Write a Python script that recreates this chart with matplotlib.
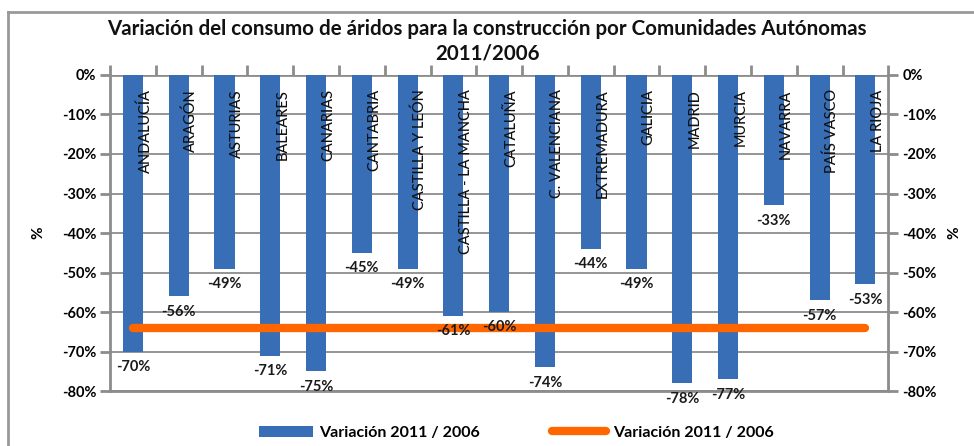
import matplotlib
matplotlib.use('Agg')
import matplotlib.pyplot as plt
from matplotlib.lines import Line2D
from matplotlib.patches import Patch
from matplotlib.ticker import FuncFormatter, MultipleLocator
import numpy as np

regiones = ['ANDALUCÍA', 'ARAGÓN', 'ASTURIAS', 'BALEARES', 'CANARIAS',
            'CANTABRIA', 'CASTILLA Y LEÓN', 'CASTILLA - LA MANCHA',
            'CATALUÑA', 'C. VALENCIANA', 'EXTREMADURA', 'GALICIA',
            'MADRID', 'MURCIA', 'NAVARRA', 'PAÍS VASCO', 'LA RIOJA']
variacion = [-70, -56, -49, -71, -75, -45, -49, -61, -60, -74, -44, -49,
             -78, -77, -33, -57, -53]
media = -64

titulo = 'Variación del consumo de áridos para la construcción por Comunidades Autónomas\n2011/2006'
leyenda = 'Variación 2011 / 2006'

plt.rcParams['font.family'] = ['Lato', 'DejaVu Sans']

fig = plt.figure(figsize=(9.74, 4.46), dpi=100)
ax = fig.add_axes([0.113, 0.123, 0.799, 0.709])

x = np.arange(len(regiones))
barras = ax.bar(x, variacion, width=0.44, color='#376EB5', zorder=3)
ax.plot(x, [media] * len(x), color='#FF6600', lw=6,
        solid_capstyle='round', zorder=4)

ax.bar_label(barras, labels=[f'{v}%' for v in variacion], padding=6,
             fontsize=10.5, fontweight='bold', color='#1a1a1a', zorder=5)

for i, nombre in enumerate(regiones):
    ax.text(i + 0.27, -3.6, nombre, rotation=90, ha='center', va='top',
            fontsize=10.5, fontweight='medium', color='#111111', zorder=5)

ax.set_xlim(-0.5, len(regiones) - 0.5)
ax.set_ylim(-80, 0)
ax.yaxis.set_major_locator(MultipleLocator(10))
fmt = FuncFormatter(lambda v, p: f'{v:.0f}%')
ax.yaxis.set_major_formatter(fmt)
ax.grid(axis='y', color='#8c8c8c', lw=1.3, zorder=0)
ax.set_ylabel('%', fontsize=11, fontweight='bold', labelpad=12)

ax.xaxis.tick_top()
ax.set_xticks(np.arange(len(regiones) + 1) - 0.5)
ax.set_xticklabels([])
ax.tick_params(axis='x', length=7, width=2, color='#8c8c8c', direction='out')
ax.tick_params(axis='y', length=7, width=2, color='#8c8c8c',
               labelsize=10.5, pad=3)
for t in ax.get_yticklabels():
    t.set_fontweight('bold')

for lado in ['left', 'right', 'bottom']:
    ax.spines[lado].set_color('#8c8c8c')
    ax.spines[lado].set_linewidth(2)
ax.spines['top'].set_visible(False)
ax.axhline(0, color='#8c8c8c', lw=2, zorder=2)

ax2 = ax.twinx()
ax2.set_ylim(-80, 0)
ax2.yaxis.set_major_locator(MultipleLocator(10))
ax2.yaxis.set_major_formatter(fmt)
ax2.tick_params(axis='y', length=7, width=2, color='#8c8c8c',
                labelsize=10.5, pad=3)
for t in ax2.get_yticklabels():
    t.set_fontweight('bold')
ax2.set_ylabel('%', fontsize=11, fontweight='bold', labelpad=8)
for s in ax2.spines.values():
    s.set_visible(False)

fig.text(0.5, 0.858, titulo, ha='center', va='bottom', fontsize=14.8,
         fontweight='bold', color='#111111', linespacing=1.3)

handles = [Patch(facecolor='#376EB5', label=leyenda),
           Line2D([0], [0], color='#FF6600', lw=6, solid_capstyle='round',
                  label=leyenda)]
fig.legend(handles=handles, loc='center', bbox_to_anchor=(0.53, 0.03),
           ncol=2, frameon=False, handlelength=3.4, handletextpad=0.4,
           columnspacing=4.5, prop={'weight': 'bold', 'size': 11.5})

fig.add_artist(Line2D([8 / 974, 8 / 974], [0, 1 - 12 / 446],
                      color='#999999', lw=2, transform=fig.transFigure))
fig.add_artist(Line2D([8 / 974, 1], [1 - 12 / 446, 1 - 12 / 446],
                      color='#999999', lw=2, transform=fig.transFigure))

fig.savefig('out.png', dpi=100)
